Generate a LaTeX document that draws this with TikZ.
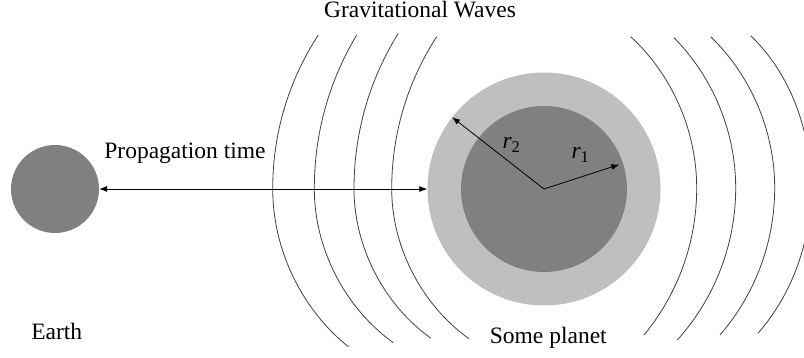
\documentclass[tikz,border=0pt]{standalone}
\usepackage{fontspec}
\setmainfont{Liberation Serif}
\usetikzlibrary{arrows.meta,positioning}
\definecolor{darkbody}{RGB}{128,128,128}
\definecolor{lightbody}{RGB}{191,191,191}

\begin{document}
\begin{tikzpicture}[
  x=1pt, y=1pt,
  font=\fontsize{23.5}{28}\selectfont,
  body/.style={circle, inner sep=0pt, fill=#1},
  wave/.style={black!75, line width=0.8pt, looseness=0.88},
  arrow/.style={{Latex[length=8pt,width=6pt]}-{Latex[length=8pt,width=6pt]}, line width=0.8pt},
  radius arrow/.style={-{Latex[length=8pt,width=6pt]}, line width=0.8pt},
  label/.style={anchor=base}
]
\useasboundingbox (0,0) rectangle (804,358);
% Gravitational waves on both sides of the planet
\begin{scope}
\clip (0,0) rectangle (804,358);
\draw[wave] (318.3,323) to[out=237,in=90] (272.7,169) to[out=270,in=141.2] (348.3,11.3);
\draw[wave] (356.7,323) to[out=239.2,in=90] (314.3,169) to[out=270,in=144.4] (393.3,15.3);
\draw[wave] (398.3,324.7) to[out=238.2,in=90] (354,169) to[out=270,in=144.6] (431,19.7);
\draw[wave] (436.7,321.3) to[out=237.1,in=90] (391.7,169) to[out=270,in=144.6] (469,19.3);
\draw[wave] (630.7,321.3) to[out=317.4,in=90] (696.7,170) to[out=270,in=50.5] (644,23);
\draw[wave] (674,320.3) to[out=314.6,in=90] (735.7,170) to[out=270,in=48] (677.3,18);
\draw[wave] (710.7,321.3) to[out=315.9,in=90] (774.7,170) to[out=270,in=49.2] (720,23);
\draw[wave] (750.7,322.3) to[out=316,in=90] (811,170) to[out=270,in=49] (758,24.7);
\end{scope}
% Earth and the planet with its core
\node[body=darkbody, minimum size=88pt] (earth) at (55,169) {};
\node[body=lightbody, minimum size=233pt] (planet) at (544,169) {};
\node[body=darkbody, minimum size=166pt] (core) at (544,169) {};
\draw[arrow] (earth) -- (planet);
\draw[radius arrow] (planet.center) -- (planet.142.7);
\draw[radius arrow, shorten >=4pt] (planet.center) -- (core.18);
% Labels
\node[label] (waves) at (420,340.7) {Gravitational Waves};
\node[label] (time) at (185,199.7) {Propagation time};
\node[label] (earthname) at (56.7,18) {Earth};
\node[label] (planetname) at (548.3,14) {Some planet};
\node[label] (rtwo) at (511.5,209) {\textit{r}\textsubscript{2}};
\node[label] (rone) at (580.5,199) {\textit{r}\textsubscript{1}};
\end{tikzpicture}
\end{document}
